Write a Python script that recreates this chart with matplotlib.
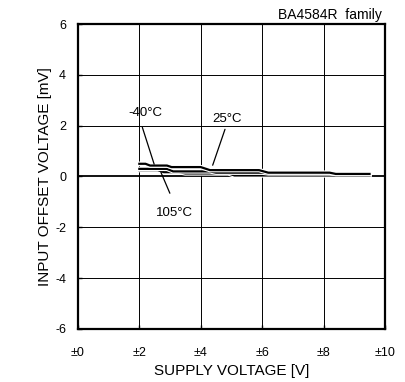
import matplotlib
matplotlib.use("Agg")
import matplotlib.pyplot as plt
import matplotlib.patheffects as pe

plt.rcParams['font.family'] = ['Liberation Sans', 'DejaVu Sans']
plt.rcParams['axes.unicode_minus'] = False

# supply voltage [±V] vs input offset voltage [mV]
v_m40 = [2.0, 2.2, 2.35, 2.9, 3.05, 4.0, 4.3, 5.9, 6.2, 8.2, 8.4, 9.5]
off_m40 = [0.50, 0.50, 0.43, 0.43, 0.37, 0.37, 0.25, 0.25, 0.15, 0.15, 0.10, 0.10]

v_25 = [2.0, 2.9, 3.1, 4.3, 4.5, 6.0, 6.2, 8.2, 8.4, 9.5]
off_25 = [0.30, 0.30, 0.20, 0.20, 0.15, 0.15, 0.12, 0.12, 0.10, 0.10]

v_105 = [2.0, 2.6, 2.8, 3.3, 3.5, 4.9, 5.1, 9.5]
off_105 = [0.25, 0.25, 0.17, 0.17, 0.12, 0.12, 0.04, 0.04]

xticks = [0, 2, 4, 6, 8, 10]
xticklabels = ['±0', '±2', '±4', '±6', '±8', '±10']
yticks = [-6, -4, -2, 0, 2, 4, 6]

fig = plt.figure(figsize=(4.06, 3.82), dpi=100)
ax = fig.add_axes([0.192, 0.139, 0.756, 0.798])

ax.set_xlim(0, 10)
ax.set_ylim(-6, 6)
ax.set_xticks(xticks)
ax.set_xticklabels(xticklabels)
ax.set_yticks(yticks)
ax.tick_params(direction='in', length=3, width=1, labelsize=9, color='black')
ax.tick_params(axis='x', pad=13)
ax.tick_params(axis='y', pad=8.5)
for s in ax.spines.values():
    s.set_linewidth(1.6)

# grid
for xv in xticks[1:-1]:
    ax.axvline(xv, color='black', lw=0.7, zorder=1)
for yv in yticks[1:-1]:
    ax.axhline(yv, color='black', lw=1.3 if yv == 0 else 0.7, zorder=1)

stroke = [pe.Stroke(linewidth=3.2, foreground='white'), pe.Normal()]
for xs, ys in [(v_105, off_105), (v_25, off_25), (v_m40, off_m40)]:
    ax.plot(xs, ys, color='black', lw=1.6, zorder=3, path_effects=stroke)

# labels with leader lines
ax.text(2.21, 2.51, '-40°C', fontsize=9.5, ha='center', va='center')
ax.annotate('', xy=(2.51, 0.38), xytext=(2.07, 2.04),
            arrowprops=dict(arrowstyle='-', color='black', lw=0.9))
ax.text(4.87, 2.27, '25°C', fontsize=9.5, ha='center', va='center')
ax.annotate('', xy=(4.36, 0.34), xytext=(4.82, 1.96),
            arrowprops=dict(arrowstyle='-', color='black', lw=0.9))
ax.text(3.16, -1.43, '105°C', fontsize=9.5, ha='center', va='center')
ax.annotate('', xy=(2.67, 0.26), xytext=(3.03, -0.76),
            arrowprops=dict(arrowstyle='-', color='black', lw=0.9))

ax.set_xlabel('SUPPLY VOLTAGE [V]', fontsize=11, labelpad=3.5)
ax.set_ylabel('INPUT OFFSET VOLTAGE [mV]', fontsize=11, labelpad=2)
fig.text(0.941, 0.961, 'BA4584R  family', fontsize=10, ha='right', va='center')

fig.savefig('out.png', dpi=100)
